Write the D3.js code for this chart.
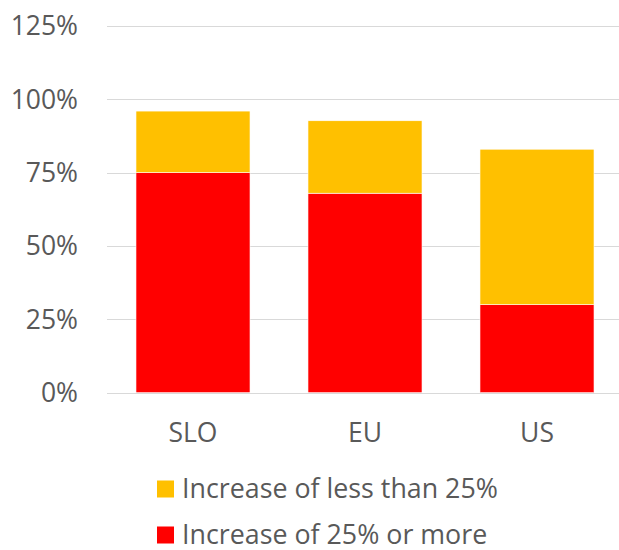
<!DOCTYPE html>
<html>
<head>
<meta charset="utf-8">
<script src="https://cdn.jsdelivr.net/npm/d3@7"></script>
<style>
  body { margin: 0; background: #fff; }
  text { font-family: "Open Sans", "Noto Sans", sans-serif; fill: #595959; }
</style>
</head>
<body>
<svg width="619" height="550"></svg>
<script>
// data
var categories = ["SLO", "EU", "US"];
var bigIncrease = [75, 68, 30];      // Increase of 25% or more
var smallIncrease = [21, 24.7, 53];  // Increase of less than 25%
var yTicks = [0, 25, 50, 75, 100, 125];
var seriesNames = ["Increase of less than 25%", "Increase of 25% or more"];
var seriesColors = ["#FFC000", "#FF0000"];

var svg = d3.select("svg"),
    width = +svg.attr("width"),
    height = +svg.attr("height");

var x = d3.scaleBand().domain(categories).range([107, 623]).paddingInner(0.337).paddingOuter(0.1685);
var y = d3.scaleLinear().domain([0, 125]).range([392.7, 26]);

// gridlines
svg.append("g").selectAll("line")
    .data(yTicks)
    .enter().append("line")
    .attr("x1", 107).attr("x2", width)
    .attr("y1", d => Math.round(y(d)) + 0.5).attr("y2", d => Math.round(y(d)) + 0.5)
    .attr("stroke", "#D9D9D9")
    .attr("stroke-width", 1);

// y labels
svg.append("g").selectAll("text")
    .data(yTicks)
    .enter().append("text")
    .attr("x", 78)
    .attr("y", d => y(d))
    .attr("dy", "0.35em")
    .attr("text-anchor", "end")
    .attr("font-size", 26.5)
    .text(d => d + "%");

// stacked bars
var rows = categories.map((c, i) => ({ cat: c, big: bigIncrease[i], small: smallIncrease[i] }));
var stack = d3.stack().keys(["big", "small"])(rows);

svg.append("g").selectAll("g")
    .data(stack)
    .enter().append("g")
    .attr("fill", d => d.key == "big" ? seriesColors[1] : seriesColors[0])
    .selectAll("rect")
    .data(d => d)
    .enter().append("rect")
    .attr("x", d => x(d.data.cat))
    .attr("width", x.bandwidth())
    .attr("y", d => y(d[1]))
    .attr("height", d => y(d[0]) - y(d[1]))
    .attr("stroke", "#fff")
    .attr("stroke-width", 0.6);

// category labels
svg.append("g").selectAll("text")
    .data(categories)
    .enter().append("text")
    .attr("x", d => x(d) + x.bandwidth() / 2)
    .attr("y", 433)
    .attr("dy", "0.35em")
    .attr("text-anchor", "middle")
    .attr("font-size", 26.5)
    .text(d => d);

// legend
var legend = svg.append("g").selectAll("g")
    .data(seriesNames)
    .enter().append("g")
    .attr("transform", (d, i) => "translate(157," + (489 + i * 46) + ")");

legend.append("rect")
    .attr("x", 0).attr("y", -8.5)
    .attr("width", 17).attr("height", 17)
    .attr("fill", (d, i) => seriesColors[i]);

legend.append("text")
    .attr("x", 25)
    .attr("y", 0)
    .attr("dy", "0.35em")
    .attr("font-size", 26.8)
    .text(d => d);
</script>
</body>
</html>
